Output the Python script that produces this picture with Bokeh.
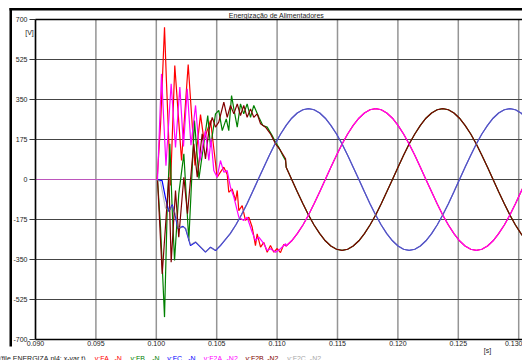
from bokeh.plotting import figure
from bokeh.models import FixedTicker, PrintfTickFormatter, Label, BoxAnnotation, Range1d
from bokeh.embed import file_html
from bokeh.resources import INLINE

# ---------------- data ----------------
x_ticks = [0.090, 0.095, 0.100, 0.105, 0.110, 0.115, 0.120, 0.125, 0.130]
y_ticks = [-700, -525, -350, -175, 0, 175, 350, 525, 700]

# steady-state part (common time grid)
t_ss = [0.10612, 0.10658, 0.10704, 0.10751, 0.10797, 0.10843, 0.10890, 0.10936, 0.10982, 0.11029,
        0.11075, 0.11121, 0.11167, 0.11214, 0.11260, 0.11306, 0.11353, 0.11399, 0.11445, 0.11492,
        0.11538, 0.11584, 0.11630, 0.11677, 0.11723, 0.11769, 0.11816, 0.11862, 0.11908, 0.11955,
        0.12001, 0.12047, 0.12093, 0.12140, 0.12186, 0.12232, 0.12279, 0.12325, 0.12371, 0.12418,
        0.12464, 0.12510, 0.12556, 0.12603, 0.12649, 0.12695, 0.12742, 0.12788, 0.12834, 0.12881,
        0.12927, 0.12973, 0.13019, 0.13066]
A_ss = [-54, -106, -155, -199, -237, -268, -291, -305, -310, -305,
        -291, -268, -237, -199, -155, -106, -54, 0, 54, 106,
        155, 199, 237, 268, 291, 305, 310, 305, 291, 268,
        237, 199, 155, 106, 54, 0, -54, -106, -155, -199,
        -237, -268, -291, -305, -310, -305, -291, -268, -237, -199,
        -155, -106, -54, 0]
B_ss = [291, 305, 310, 305, 291, 268, 237, 199, 155, 106,
        54, 0, -54, -106, -155, -199, -237, -268, -291, -305,
        -310, -305, -291, -268, -237, -199, -155, -106, -54, 0,
        54, 106, 155, 199, 237, 268, 291, 305, 310, 305,
        291, 268, 237, 199, 155, 106, 54, 0, -54, -106,
        -155, -199, -237, -268]
C_ss = [-237, -199, -155, -106, -54, 0, 54, 106, 155, 199,
        237, 268, 291, 305, 310, 305, 291, 268, 237, 199,
        155, 106, 54, 0, -54, -106, -155, -199, -237, -268,
        -291, -305, -310, -305, -291, -268, -237, -199, -155, -106,
        -54, 0, 54, 106, 155, 199, 237, 268, 291, 305,
        310, 305, 291, 268]

# transient parts
t_FA = [0.0900, 0.1000, 0.10007, 0.10036, 0.10068, 0.10084, 0.10118, 0.10153, 0.10209, 0.10264,
        0.10320, 0.10366, 0.10395, 0.10449, 0.10504, 0.10531, 0.10559, 0.10587, 0.10600, 0.10628,
        0.10656, 0.10670, 0.10683, 0.10711, 0.10738, 0.10766, 0.10794, 0.10821, 0.10835, 0.10863,
        0.10890, 0.10918, 0.10945, 0.10973, 0.11001, 0.11028, 0.11055]
v_FA = [0, 0, 0, 250, 666, 430, -26, 499, 83, 503,
        61, 284, 171, 258, 10, 32, 54, 22, -56, -41,
        -92, -48, -136, -114, -179, -165, -209, -289, -238, -296,
        -275, -318, -289, -318, -302, -320, -284]

t_F2A = [0.0900, 0.1000, 0.10010, 0.10043, 0.10080, 0.10123, 0.10159, 0.10195, 0.10225, 0.10256,
         0.10287, 0.10325, 0.10362, 0.10407, 0.10435, 0.10453, 0.10476, 0.10504, 0.10531, 0.10559,
         0.10587, 0.10614, 0.10642, 0.10683, 0.10724, 0.10752, 0.10794, 0.10821, 0.10849, 0.10890,
         0.10918, 0.10945, 0.10987, 0.11028, 0.11070]
v_F2A = [0, 0, 0, 462, 60, 419, 140, 404, 145, 397,
         150, 324, 83, 214, 83, 179, 39, 10, 83, 32,
         39, -34, -77, -165, -179, -165, -231, -267, -252, -281,
         -311, -303, -318, -303, -281]

t_FB = [0.0900, 0.1000, 0.10010, 0.10035, 0.10068, 0.10090, 0.10112, 0.10132, 0.10151, 0.10186,
        0.10228, 0.10269, 0.10316, 0.10353, 0.10426, 0.10449, 0.10490, 0.10517, 0.10546, 0.10579,
        0.10600, 0.10623, 0.10642, 0.10670, 0.10697, 0.10724, 0.10752, 0.10780, 0.10807, 0.10849,
        0.10882, 0.10918, 0.10959, 0.10987, 0.11014, 0.11047, 0.11070]
v_FB = [0, 0, 0, -209, -602, -136, 156, -136, -354, -63,
        112, -267, 258, 4, 280, 141, 287, 302, 214, 265,
        214, 367, 309, 229, 331, 287, 331, 272, 324, 272,
        236, 229, 192, 163, 141, 105, 83]

t_F2B = [0.0900, 0.1000, 0.10010, 0.10049, 0.10104, 0.10123, 0.10159, 0.10186, 0.10228, 0.10258,
         0.10310, 0.10339, 0.10380, 0.10407, 0.10435, 0.10463, 0.10490, 0.10517, 0.10559, 0.10587,
         0.10614, 0.10642, 0.10670, 0.10697, 0.10724, 0.10752, 0.10780, 0.10807, 0.10835, 0.10863,
         0.10904, 0.10945, 0.10987, 0.11028, 0.11070]
v_F2B = [0, 0, 0, -413, 10, -362, -48, -252, 10, -150,
         156, 10, 200, 90, 214, 272, 229, 251, 338, 272,
         324, 287, 331, 280, 324, 272, 309, 272, 287, 244,
         229, 200, 156, 127, 91]

t_FC = [0.0900, 0.1000, 0.10048, 0.10076, 0.10104, 0.10132, 0.10159, 0.10180, 0.10221, 0.10242,
        0.10283, 0.10325, 0.10366, 0.10407, 0.10449, 0.10490, 0.10531, 0.10573]
v_FC = [0, 0, -5, -80, -140, -110, -165, -215, -205, -215,
        -289, -274, -296, -318, -296, -311, -289, -262]

t_F2C = [0.0900, 0.1000, 0.10035, 0.10076, 0.10104, 0.10132, 0.10159, 0.10180, 0.10221, 0.10242,
         0.10283, 0.10325, 0.10366, 0.10407, 0.10449, 0.10490, 0.10531, 0.10573]
v_F2C = [0, 0, -10, -125, -135, -115, -150, -212, -208, -213,
         -285, -272, -294, -316, -298, -309, -287, -262]

title_text = "Energização de Alimentadores"
y_unit = "[V]"
x_unit = "[s]"
legend_texts = ["(file ENERGIZA.pl4; x-var t)", "v:FA", "-N", "v:FB", "-N", "v:FC", "-N",
                "v:F2A", "-N2", "v:F2B", "-N2", "v:F2C", "-N2"]


def full(ts, vs, ss):
    last = ts[-1]
    t = list(ts) + [x for x in t_ss if x > last]
    v = list(vs) + [y for x, y in zip(t_ss, ss) if x > last]
    return t, v


# ---------------- geometry: frame covers the whole canvas ----------------
W, H = 522, 360
PLOT_L, PLOT_T, PLOT_B = 35, 19, 339          # pixel edges of the inner plot box
SX = (x_ticks[1] - x_ticks[0]) / 60.4          # data units per pixel (x)
SY = (y_ticks[-1] - y_ticks[0]) / (PLOT_B - PLOT_T)
X0 = x_ticks[0] - PLOT_L * SX
YT = y_ticks[-1] + PLOT_T * SY


def X(px):
    return X0 + px * SX


def Y(py):
    return YT - py * SY


FONT = "Liberation Sans"
FS = "7px"
TXT = "#1a1a1a"

p = figure(width=W, height=H, x_range=Range1d(X(0), X(W)), y_range=Range1d(Y(H), Y(0)),
           output_backend="svg", toolbar_location=None, title=None,
           min_border=0, min_border_left=0, min_border_right=0,
           min_border_top=0, min_border_bottom=0)
p.background_fill_color = "white"
p.border_fill_color = "white"
p.outline_line_color = None
p.xgrid.visible = False
p.ygrid.visible = False

# axes drawn at the edges of the inner plot box
p.xaxis.fixed_location = y_ticks[0]
p.yaxis.fixed_location = x_ticks[0]
p.xaxis.bounds = (x_ticks[0], X(W))
p.yaxis.bounds = (y_ticks[0], y_ticks[-1])
p.xaxis.ticker = FixedTicker(ticks=x_ticks)
p.xaxis.formatter = PrintfTickFormatter(format="%.3f")
p.yaxis.ticker = FixedTicker(ticks=y_ticks)
p.yaxis.formatter = PrintfTickFormatter(format="%d")
for ax in (p.xaxis[0], p.yaxis[0]):
    ax.axis_line_color = "black"
    ax.axis_line_width = 1.5
    ax.minor_tick_line_color = None
    ax.major_label_text_font = FONT
    ax.major_label_text_font_size = FS
    ax.major_label_text_color = TXT
    ax.major_tick_in = 0
    ax.major_tick_line_color = "#303030"
p.xaxis.major_tick_out = 0
p.xaxis.major_label_standoff = 1
p.yaxis.major_tick_out = 6
p.yaxis.major_label_standoff = 2

# grid lines at the tick positions, limited to the inner box
nx, ny = len(x_ticks), len(y_ticks)
p.segment(x0=x_ticks, x1=x_ticks, y0=[y_ticks[0]] * nx, y1=[y_ticks[-1]] * nx,
          line_color="#959595", line_width=1.5)
p.segment(x0=[x_ticks[0]] * ny, x1=[X(W)] * ny, y0=y_ticks, y1=y_ticks,
          line_color="#454545", line_width=1.2)
p.segment(x0=[x_ticks[0]], x1=[X(W)], y0=[y_ticks[-1]], y1=[y_ticks[-1]],
          line_color="black", line_width=1.6)

# series
tA, vA = full(t_FA, v_FA, A_ss)
tB, vB = full(t_FB, v_FB, B_ss)
tC, vC = full(t_FC, v_FC, C_ss)
tA2, vA2 = full(t_F2A, v_F2A, A_ss)
tB2, vB2 = full(t_F2B, v_F2B, B_ss)
tC2, vC2 = full(t_F2C, v_F2C, C_ss)

LW = 1.2
p.line(tA, vA, line_color="#ff0000", line_width=LW)
p.line(tB, vB, line_color="#008000", line_width=LW)
p.line(tC, vC, line_color="#0000ff", line_width=LW)
p.line(tB2, vB2, line_color="#800000", line_width=LW)
p.line(tA2, vA2, line_color="#ff00ff", line_width=LW)
p.line(tC2, vC2, line_color="#909090", line_width=LW, line_alpha=0.6)

# outer frame lines of the plot window
p.add_layout(BoxAnnotation(left=X(9), right=X(W + 5), top=Y(7.5), bottom=Y(10),
                           fill_color="black", fill_alpha=1, line_color=None))
p.add_layout(BoxAnnotation(left=X(9), right=X(11.5), top=Y(7.5), bottom=Y(346),
                           fill_color="black", fill_alpha=1, line_color=None))


def lab(px, py, text, color=TXT, align="left"):
    p.add_layout(Label(x=X(px), y=Y(py), text=text,
                       text_font=FONT, text_font_size=FS, text_color=color,
                       text_align=align, text_baseline="middle"))


lab(276, 14.5, title_text, align="center")
lab(29, 32, y_unit, align="center")
lab(487, 350, x_unit, align="center")

leg_x = [-1, 94.3, 114, 130, 151.7, 166.7, 187.7, 203.3, 226, 245, 266.7, 286.7, 309.3]
leg_c = [TXT, "#ff0000", "#ff0000", "#008000", "#008000", "#0000ff", "#0000ff",
         "#ff00ff", "#ff00ff", "#800000", "#800000", "#a8a8a8", "#a8a8a8"]
for xx, tt, cc in zip(leg_x, legend_texts, leg_c):
    lab(xx, 357.5, tt, color=cc)

open("out.html", "w").write(file_html(p, INLINE))
